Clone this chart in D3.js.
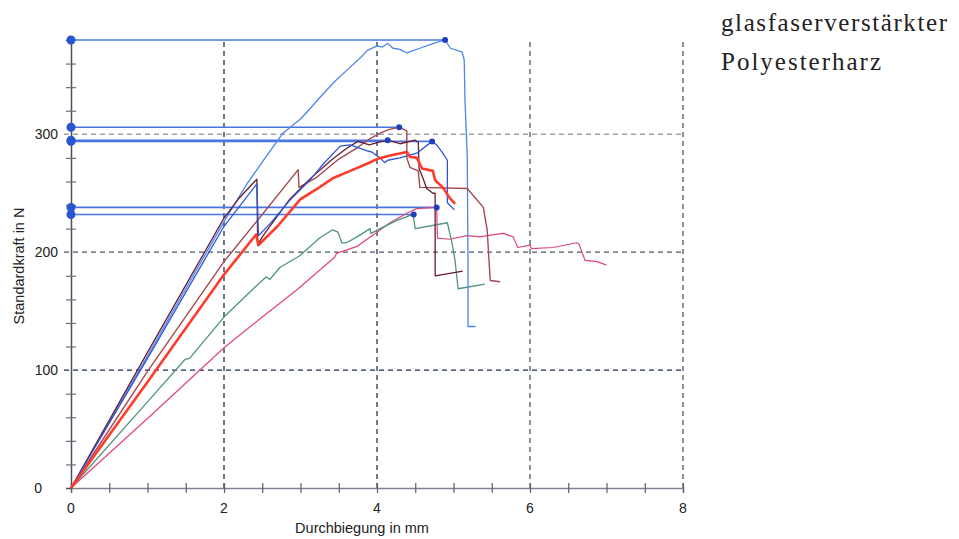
<!DOCTYPE html>
<html>
<head>
<meta charset="utf-8">
<script src="https://cdn.jsdelivr.net/npm/d3@7"></script>
<style>
  body { margin: 0; background: #fff; }
  svg { display: block; }
</style>
</head>
<body>
<div id="chart-area"></div>
<script>
// curves: [Durchbiegung mm, Standardkraft N]
const curveLightBlue = [[0,0],[1,112],[2,226],[2.3,258],[2.55,281],[2.77,301],[3.0,313],[3.1,320],[3.25,331],[3.45,345],[3.65,357],[3.8,366],[3.87,371],[4.0,375],[4.07,374],[4.14,377],[4.21,373],[4.3,372],[4.39,369],[4.56,373],[4.73,377],[4.89,380],[4.96,373],[5.11,370],[5.14,363],[5.15,329],[5.18,281],[5.19,185],[5.19,137],[5.29,137]]
const curveMaroon = [[0,0],[1,115],[2,229],[2.2,246],[2.43,262],[2.44,206],[2.5,213],[2.86,245],[3.12,262],[3.42,279],[3.6,288],[3.75,294],[3.9,291],[4.0,293],[4.14,295],[4.3,292],[4.5,295],[4.54,293],[4.55,271],[4.6,263],[4.65,254],[4.73,250],[4.76,250],[4.76,180],[5.12,184]]
const curveBlue = [[0,0],[1,110],[2,222],[2.43,258],[2.45,214],[2.6,224],[2.86,244],[3.12,261],[3.3,275],[3.52,290],[3.65,291],[3.87,286],[3.93,285],[4.04,280],[4.10,276],[4.14,278],[4.30,280],[4.52,284],[4.72,294],[4.78,291],[4.86,284],[4.92,278],[4.92,242],[4.98,238],[5.01,236]]
const curveBrown = [[0,0],[1,99],[2,192],[2.5,232],[2.97,270],[2.98,255],[3.2,263],[3.5,279],[3.75,289],[3.9,296],[4.04,301],[4.15,304],[4.29,306],[4.39,303],[4.39,280],[4.43,272],[4.54,269],[4.56,255],[5.18,254],[5.39,238],[5.44,219],[5.48,176],[5.61,175]]
const curveRed = [[0,0],[1,90],[2,181],[2.42,215],[2.45,206],[2.7,222],[3.0,245],[3.2,253],[3.43,263],[3.65,269],[3.87,275],[4.0,279],[4.17,282],[4.39,285],[4.43,281],[4.52,280],[4.59,271],[4.73,269],[4.76,261],[4.86,255],[4.95,246],[5.02,241]]
const curveGreen = [[0,0],[1,73],[1.49,109],[1.55,110],[2,145],[2.4,170],[2.55,179],[2.6,177],[2.73,187],[2.99,197],[3.25,212],[3.42,219],[3.49,217],[3.54,208],[3.6,208],[3.74,213],[3.91,220],[3.92,216],[4.04,220],[4.26,227],[4.47,232],[4.50,220],[4.92,225],[4.98,208],[5.02,193],[5.06,169],[5.41,173]]
const curvePink = [[0,0],[1,59],[2,119],[2.5,145],[2.95,168],[3.45,196],[3.47,199],[3.74,205],[4.0,217],[4.17,225],[4.39,233],[4.52,237],[4.78,238],[4.79,212],[4.95,211],[5.18,214],[5.35,213],[5.44,214],[5.65,216],[5.78,213],[5.84,204],[6.0,206],[6.02,203],[6.30,204],[6.61,208],[6.64,207],[6.72,193],[6.88,192],[7.0,189]]

// maximum force of each sample
const peakX = [4.89, 4.29, 4.14, 4.72, 4.78, 4.48]
const peakY = [380, 306, 295, 294, 238, 232]

const xTicks = [0, 2, 4, 6, 8]
const yTicks = [0, 100, 200, 300]
const titleLines = ["glasfaserverstärkter", "Polyesterharz"]

const totalWidth = 959
const totalHeight = 539

const svg = d3.select("#chart-area")
    .append("svg")
    .attr("width", totalWidth)
    .attr("height", totalHeight)

const xScale = d3.scaleLinear().domain([0, 8]).range([71, 683])
const yScale = d3.scaleLinear().domain([0, 380]).range([488, 40])

// grid
const vGrid = [
    {v: 2, c: "#1d2a55"}, {v: 4, c: "#2a3558"}, {v: 6, c: "#4e5563"}, {v: 8, c: "#4e5563"}
]
const hGrid = [
    {v: 100, c: "#1d2d5c"}, {v: 200, c: "#4f5868"}, {v: 300, c: "#9aa6aa"}
]
svg.selectAll(".vgrid").data(vGrid).enter().append("line")
    .attr("x1", d => xScale(d.v)).attr("x2", d => xScale(d.v))
    .attr("y1", yScale(0)).attr("y2", yScale(380) - 2)
    .attr("stroke", d => d.c).attr("stroke-width", 1.3)
    .style("stroke-dasharray", "5,4")
svg.selectAll(".hgrid").data(hGrid).enter().append("line")
    .attr("x1", xScale(0) - 7).attr("x2", xScale(8))
    .attr("y1", d => yScale(d.v)).attr("y2", d => yScale(d.v))
    .attr("stroke", d => d.c).attr("stroke-width", d => d.v === 300 ? 1.6 : 1.3)
    .style("stroke-dasharray", "5,4")

// axes
const xAxis = svg.append("g")
    .attr("transform", `translate(0, ${yScale(0)})`)
    .call(d3.axisBottom(xScale).tickValues(d3.range(0, 8.01, 0.5)).tickSize(5).tickFormat(""))
xAxis.select(".domain").attr("stroke", "#7d8290").attr("stroke-width", 1.5)
xAxis.selectAll(".tick line").attr("stroke", "#5a606c").attr("stroke-width", 1.2).attr("y1", -5)

svg.selectAll(".xlab").data(xTicks).enter().append("text")
    .attr("x", d => xScale(d)).attr("y", 513)
    .attr("text-anchor", "middle")
    .attr("font-family", "Liberation Sans, Arial, sans-serif")
    .attr("font-size", "14px").attr("fill", "#222")
    .text(d => d)

const yAxis = svg.append("g")
    .attr("transform", `translate(${xScale(0)}, 0)`)
    .call(d3.axisLeft(yScale).tickValues(d3.range(20, 361, 20).filter(v => v % 100 !== 0)).tickSize(5).tickFormat(""))
yAxis.select(".domain").attr("stroke", "#4a4f5a").attr("stroke-width", 1.5)
yAxis.selectAll(".tick line").attr("stroke", "#6a707c").attr("stroke-width", 1.2).attr("x2", 5).attr("x1", -5)

svg.selectAll(".ylab").data(yTicks).enter().append("text")
    .attr("x", d => d === 0 ? 42 : 58).attr("y", d => yScale(d) + 5)
    .attr("text-anchor", "end")
    .attr("font-family", "Liberation Sans, Arial, sans-serif")
    .attr("font-size", "14px").attr("fill", "#222")
    .text(d => d)

svg.append("text")
    .attr("x", 362).attr("y", 533)
    .attr("text-anchor", "middle")
    .attr("font-family", "Liberation Sans, Arial, sans-serif")
    .attr("font-size", "14.5px").attr("fill", "#222")
    .text("Durchbiegung in mm")

svg.append("text")
    .attr("transform", "translate(24, 266) rotate(-90)")
    .attr("text-anchor", "middle")
    .attr("font-family", "Liberation Sans, Arial, sans-serif")
    .attr("font-size", "14.5px").attr("fill", "#222")
    .text("Standardkraft in N")

// reference lines from the axis to each maximum
const peaks = peakX.map((x, i) => ({x: x, y: peakY[i]}))
svg.selectAll(".ref").data(peaks).enter().append("line")
    .attr("x1", xScale(0)).attr("x2", d => xScale(d.x))
    .attr("y1", d => yScale(d.y)).attr("y2", d => yScale(d.y))
    .attr("stroke", "#4676e2").attr("stroke-width", 1.6)

// curves
const line = d3.line()
    .x(d => xScale(d[0]))
    .y(d => yScale(d[1]))

const curves = [
    {data: curvePink, c: "#e0457e", w: 1.2},
    {data: curveGreen, c: "#4f9479", w: 1.3},
    {data: curveLightBlue, c: "#4d86ec", w: 1.3},
    {data: curveBrown, c: "#a24a4e", w: 1.4},
    {data: curveMaroon, c: "#6a1c2c", w: 1.3},
    {data: curveBlue, c: "#2f55db", w: 1.3},
    {data: curveRed, c: "#ff3b2b", w: 2.6}
]
svg.selectAll(".curve").data(curves).enter().append("path")
    .attr("d", d => line(d.data))
    .attr("fill", "none")
    .attr("stroke", d => d.c)
    .attr("stroke-width", d => d.w)
    .attr("stroke-linejoin", "round")

// dots
svg.selectAll(".peak").data(peaks).enter().append("circle")
    .attr("cx", d => xScale(d.x)).attr("cy", d => yScale(d.y)).attr("r", 3)
    .attr("fill", "#1f40b8")
svg.selectAll(".axisdot").data(peaks).enter().append("circle")
    .attr("cx", xScale(0)).attr("cy", d => yScale(d.y)).attr("r", 4.5)
    .attr("fill", "#2a55d0")

// title, spaced out to the width of the original typeface
const titleWidths = [226, 160]
svg.selectAll(".title").data(titleLines).enter().append("text")
    .attr("x", 721).attr("y", (d, i) => 31 + i * 39)
    .attr("font-family", "Liberation Serif, DejaVu Serif, serif")
    .attr("font-size", "25px").attr("fill", "#222")
    .attr("textLength", (d, i) => titleWidths[i])
    .attr("lengthAdjust", "spacing")
    .text(d => d)
</script>
</body>
</html>
